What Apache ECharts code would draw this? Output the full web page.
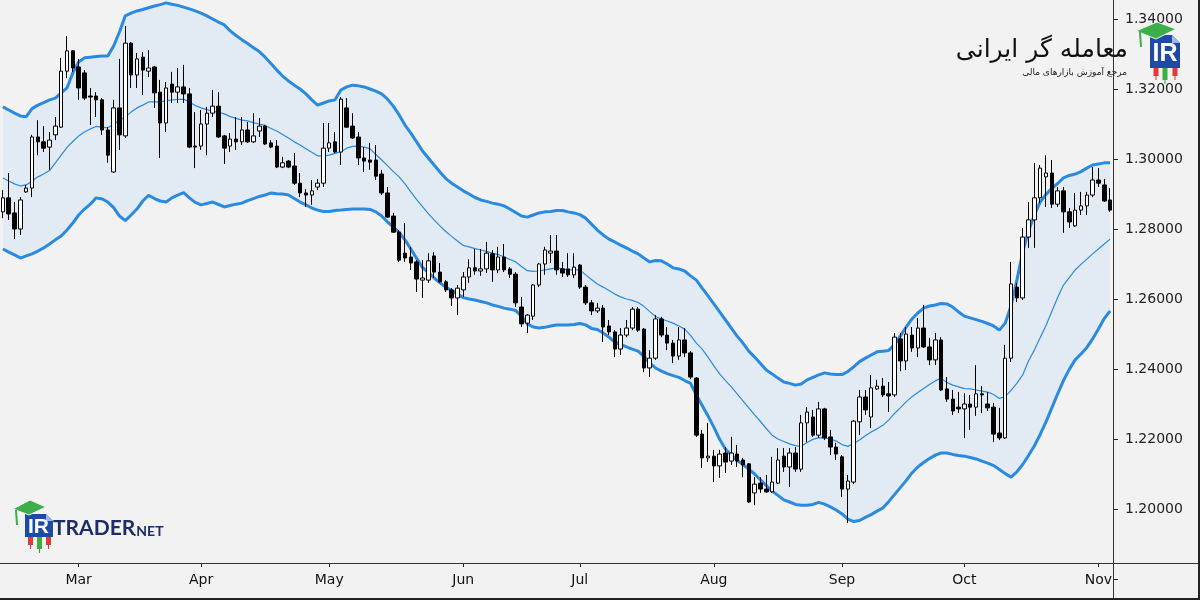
<!DOCTYPE html>
<html><head><meta charset="utf-8">
<script src="https://cdn.jsdelivr.net/npm/echarts/dist/echarts.min.js"></script>
<style>html,body{margin:0;padding:0;background:#f2f2f2}#c{width:1200px;height:600px}</style>
</head><body><div id="c"></div>
<script>
const startDate = [2019, 1, 12];
const monthNames = ['Jan','Feb','Mar','Apr','May','Jun','Jul','Aug','Sep','Oct','Nov','Dec'];
const priceTicks = [1.18,1.20,1.22,1.24,1.26,1.28,1.30,1.32,1.34];
// [open, close, low, high]
const candles = [
[1.2849,1.2889,1.2831,1.2911],[1.2889,1.2843,1.2826,1.2960],[1.2846,1.2800,1.2771,1.2877],[1.2800,1.2883,1.2783,1.2891],[1.2906,1.2917,1.2903,1.2926],
[1.2917,1.3063,1.2891,1.3069],[1.3063,1.3049,1.3011,1.3111],[1.3049,1.3031,1.3020,1.3094],[1.3034,1.3054,1.2969,1.3077],[1.3069,1.3094,1.3054,1.3120],
[1.3091,1.3251,1.3089,1.3289],[1.3251,1.3309,1.3231,1.3351],[1.3309,1.3260,1.3249,1.3311],[1.3263,1.3203,1.3169,1.3286],[1.3246,1.3174,1.3169,1.3254],
[1.3180,1.3177,1.3097,1.3203],[1.3180,1.3169,1.3120,1.3191],[1.3169,1.3083,1.3069,1.3174],[1.3083,1.3011,1.2989,1.3091],[1.2963,1.3146,1.2960,1.3169],
[1.3146,1.3069,1.3026,1.3286],[1.3066,1.3331,1.3060,1.3380],[1.3331,1.3240,1.3203,1.3334],[1.3240,1.3286,1.3203,1.3303],[1.3291,1.3254,1.3183,1.3306],
[1.3251,1.3260,1.3234,1.3311],[1.3263,1.3189,1.3146,1.3266],[1.3191,1.3103,1.3003,1.3226],[1.3103,1.3203,1.3077,1.3220],[1.3214,1.3191,1.3160,1.3249],
[1.3191,1.3206,1.3160,1.3260],[1.3206,1.3186,1.3160,1.3269],[1.3186,1.3034,1.3031,1.3203],[1.3037,1.3034,1.2974,1.3134],[1.3037,1.3100,1.3026,1.3140],
[1.3100,1.3131,1.3011,1.3149],[1.3131,1.3151,1.3120,1.3197],[1.3151,1.3063,1.3060,1.3191],[1.3066,1.3031,1.2986,1.3069],[1.3037,1.3057,1.3020,1.3074],
[1.3057,1.3049,1.3026,1.3120],[1.3049,1.3083,1.3040,1.3120],[1.3083,1.3049,1.3046,1.3106],[1.3049,1.3066,1.3046,1.3131],[1.3080,1.3094,1.3063,1.3117],
[1.3094,1.3043,1.3040,1.3097],[1.3046,1.3034,1.3031,1.3054],[1.3037,1.2977,1.2974,1.3054],[1.2977,1.2989,1.2974,1.3006],[1.2994,1.2977,1.2974,1.2997],
[1.2980,1.2931,1.2926,1.3017],[1.2931,1.2903,1.2891,1.2960],[1.2903,1.2897,1.2863,1.2914],[1.2897,1.2909,1.2869,1.2940],[1.2920,1.2931,1.2911,1.2943],
[1.2931,1.3031,1.2920,1.3103],[1.3031,1.3046,1.3020,1.3103],[1.3049,1.3020,1.3017,1.3077],[1.3020,1.3171,1.2983,1.3177],[1.3146,1.3091,1.3089,1.3174],
[1.3094,1.3060,1.3057,1.3131],[1.3063,1.3003,1.2983,1.3077],[1.3003,1.2994,1.2963,1.3034],[1.2997,1.2991,1.2969,1.3046],[1.2997,1.2951,1.2940,1.3040],
[1.2957,1.2903,1.2897,1.2969],[1.2903,1.2834,1.2831,1.2920],[1.2837,1.2791,1.2789,1.2846],[1.2791,1.2711,1.2706,1.2797],[1.2731,1.2717,1.2706,1.2817],
[1.2720,1.2703,1.2683,1.2749],[1.2706,1.2657,1.2620,1.2711],[1.2654,1.2660,1.2603,1.2711],[1.2654,1.2709,1.2646,1.2731],[1.2723,1.2677,1.2660,1.2734],
[1.2677,1.2649,1.2646,1.2703],[1.2649,1.2626,1.2620,1.2654],[1.2626,1.2603,1.2580,1.2631],[1.2603,1.2631,1.2554,1.2640],[1.2626,1.2663,1.2606,1.2677],
[1.2663,1.2689,1.2646,1.2714],[1.2689,1.2680,1.2669,1.2743],[1.2680,1.2686,1.2666,1.2743],[1.2686,1.2731,1.2674,1.2763],[1.2729,1.2683,1.2649,1.2740],
[1.2683,1.2720,1.2674,1.2749],[1.2720,1.2683,1.2677,1.2757],[1.2686,1.2671,1.2660,1.2691],[1.2671,1.2589,1.2577,1.2677],[1.2577,1.2529,1.2520,1.2606],
[1.2531,1.2554,1.2503,1.2557],[1.2551,1.2640,1.2540,1.2643],[1.2640,1.2700,1.2634,1.2703],[1.2700,1.2740,1.2669,1.2749],[1.2731,1.2737,1.2703,1.2783],
[1.2737,1.2683,1.2669,1.2783],[1.2686,1.2674,1.2663,1.2706],[1.2686,1.2669,1.2663,1.2731],[1.2669,1.2691,1.2660,1.2731],[1.2697,1.2634,1.2629,1.2700],
[1.2634,1.2589,1.2583,1.2640],[1.2589,1.2566,1.2554,1.2597],[1.2566,1.2574,1.2560,1.2589],[1.2574,1.2520,1.2477,1.2583],[1.2523,1.2506,1.2497,1.2540],
[1.2506,1.2457,1.2434,1.2511],[1.2457,1.2497,1.2440,1.2517],[1.2497,1.2517,1.2491,1.2540],[1.2517,1.2571,1.2511,1.2577],[1.2571,1.2511,1.2506,1.2577],
[1.2514,1.2403,1.2391,1.2517],[1.2403,1.2431,1.2377,1.2454],[1.2431,1.2543,1.2426,1.2554],[1.2543,1.2497,1.2491,1.2549],[1.2497,1.2474,1.2454,1.2520],
[1.2474,1.2437,1.2417,1.2483],[1.2437,1.2483,1.2426,1.2520],[1.2483,1.2446,1.2434,1.2517],[1.2446,1.2377,1.2371,1.2451],[1.2374,1.2211,1.2206,1.2377],
[1.2214,1.2146,1.2117,1.2226],[1.2146,1.2151,1.2134,1.2246],[1.2151,1.2123,1.2077,1.2169],[1.2123,1.2157,1.2089,1.2169],[1.2160,1.2134,1.2103,1.2177],
[1.2137,1.2160,1.2126,1.2206],[1.2157,1.2137,1.2120,1.2183],[1.2140,1.2126,1.2091,1.2146],[1.2129,1.2020,1.2017,1.2131],[1.2046,1.2071,1.2011,1.2091],
[1.2074,1.2057,1.2046,1.2091],[1.2057,1.2049,1.2046,1.2097],[1.2049,1.2077,1.2046,1.2149],[1.2074,1.2140,1.2071,1.2174],[1.2151,1.2120,1.2106,1.2174],
[1.2120,1.2160,1.2063,1.2174],[1.2160,1.2114,1.2106,1.2177],[1.2114,1.2246,1.2106,1.2269],[1.2246,1.2277,1.2191,1.2291],[1.2263,1.2211,1.2206,1.2283],
[1.2211,1.2286,1.2203,1.2306],[1.2286,1.2203,1.2197,1.2289],[1.2206,1.2177,1.2154,1.2226],[1.2177,1.2157,1.2140,1.2189],[1.2149,1.2057,1.2034,1.2154],
[1.2057,1.2080,1.1960,1.2097],[1.2077,1.2251,1.2071,1.2254],[1.2249,1.2320,1.2211,1.2340],[1.2320,1.2283,1.2269,1.2340],[1.2263,1.2346,1.2231,1.2383],
[1.2343,1.2351,1.2340,1.2369],[1.2351,1.2326,1.2320,1.2374],[1.2329,1.2323,1.2277,1.2363],[1.2326,1.2491,1.2320,1.2503],[1.2486,1.2423,1.2394,1.2503],
[1.2423,1.2500,1.2397,1.2520],[1.2497,1.2460,1.2449,1.2520],[1.2460,1.2517,1.2434,1.2546],[1.2517,1.2463,1.2460,1.2583],[1.2463,1.2426,1.2411,1.2489],
[1.2426,1.2483,1.2411,1.2503],[1.2483,1.2340,1.2337,1.2491],[1.2343,1.2314,1.2306,1.2377],[1.2314,1.2280,1.2269,1.2340],[1.2291,1.2286,1.2274,1.2334],
[1.2286,1.2300,1.2203,1.2331],[1.2300,1.2291,1.2226,1.2326],[1.2291,1.2329,1.2266,1.2411],[1.2329,1.2326,1.2274,1.2351],[1.2300,1.2289,1.2280,1.2334],
[1.2291,1.2214,1.2191,1.2303],[1.2217,1.2203,1.2197,1.2289],[1.2203,1.2431,1.2200,1.2469],[1.2431,1.2643,1.2420,1.2706],[1.2634,1.2603,1.2591,1.2646],
[1.2603,1.2777,1.2597,1.2803],[1.2777,1.2826,1.2746,1.2877],[1.2826,1.2889,1.2746,1.2989],[1.2889,1.2974,1.2874,1.2983],[1.2949,1.2960,1.2863,1.3011],
[1.2960,1.2871,1.2860,1.2997],[1.2871,1.2909,1.2863,1.2920],[1.2909,1.2849,1.2789,1.2920],[1.2849,1.2820,1.2803,1.2860],[1.2809,1.2854,1.2806,1.2903],
[1.2854,1.2866,1.2840,1.2906],[1.2866,1.2897,1.2840,1.2906],[1.2897,1.2940,1.2891,1.2977],[1.2940,1.2931,1.2920,1.2974],[1.2926,1.2880,1.2877,1.2943],
[1.2883,1.2854,1.2849,1.2917]
];
const upperBand = [
1.3149,1.3140,1.3131,1.3123,1.3121,1.3144,1.3154,1.3161,1.3169,1.3174,
1.3189,1.3203,1.3246,1.3277,1.3289,1.3291,1.3293,1.3294,1.3294,1.3323,
1.3363,1.3409,1.3417,1.3423,1.3427,1.3432,1.3437,1.3441,1.3446,1.3442,
1.3439,1.3434,1.3429,1.3423,1.3417,1.3409,1.3400,1.3391,1.3383,1.3366,
1.3353,1.3341,1.3330,1.3318,1.3307,1.3291,1.3273,1.3254,1.3237,1.3223,
1.3211,1.3200,1.3186,1.3169,1.3154,1.3160,1.3166,1.3169,1.3197,1.3206,
1.3211,1.3209,1.3206,1.3200,1.3194,1.3186,1.3171,1.3151,1.3126,1.3097,
1.3074,1.3049,1.3023,1.3003,1.2983,1.2963,1.2944,1.2931,1.2920,1.2909,
1.2900,1.2890,1.2883,1.2879,1.2874,1.2871,1.2866,1.2857,1.2847,1.2837,
1.2834,1.2840,1.2846,1.2849,1.2850,1.2853,1.2853,1.2849,1.2846,1.2841,
1.2831,1.2814,1.2797,1.2783,1.2771,1.2763,1.2754,1.2746,1.2737,1.2729,
1.2717,1.2706,1.2710,1.2709,1.2700,1.2689,1.2686,1.2680,1.2666,1.2654,
1.2631,1.2609,1.2586,1.2563,1.2540,1.2517,1.2494,1.2474,1.2451,1.2434,
1.2416,1.2397,1.2386,1.2374,1.2363,1.2359,1.2354,1.2357,1.2369,1.2376,
1.2383,1.2389,1.2386,1.2384,1.2384,1.2393,1.2406,1.2421,1.2431,1.2440,
1.2449,1.2451,1.2453,1.2469,1.2494,1.2520,1.2543,1.2560,1.2574,1.2580,
1.2583,1.2587,1.2586,1.2577,1.2563,1.2551,1.2546,1.2541,1.2536,1.2530,
1.2523,1.2511,1.2531,1.2580,1.2654,1.2734,1.2794,1.2840,1.2877,1.2899,
1.2916,1.2930,1.2946,1.2953,1.2957,1.2964,1.2974,1.2983,1.2986,1.2989,
1.2989];
const middleBand = [
1.2946,1.2937,1.2929,1.2923,1.2926,1.2937,1.2949,1.2957,1.2967,1.2989,
1.3011,1.3033,1.3050,1.3066,1.3077,1.3086,1.3093,1.3091,1.3089,1.3100,
1.3110,1.3121,1.3134,1.3146,1.3154,1.3163,1.3163,1.3163,1.3166,1.3169,
1.3170,1.3171,1.3163,1.3153,1.3146,1.3141,1.3137,1.3133,1.3129,1.3121,
1.3116,1.3111,1.3109,1.3104,1.3100,1.3096,1.3087,1.3080,1.3070,1.3060,
1.3049,1.3040,1.3029,1.3019,1.3009,1.3009,1.3011,1.3016,1.3021,1.3031,
1.3036,1.3037,1.3034,1.3029,1.3013,1.2997,1.2981,1.2964,1.2949,1.2929,
1.2906,1.2884,1.2864,1.2844,1.2826,1.2809,1.2793,1.2779,1.2766,1.2753,
1.2749,1.2744,1.2740,1.2736,1.2731,1.2727,1.2720,1.2713,1.2706,1.2693,
1.2681,1.2679,1.2680,1.2683,1.2686,1.2689,1.2687,1.2683,1.2683,1.2683,
1.2669,1.2656,1.2643,1.2634,1.2624,1.2614,1.2606,1.2600,1.2596,1.2590,
1.2579,1.2564,1.2550,1.2543,1.2537,1.2531,1.2523,1.2514,1.2496,1.2474,
1.2457,1.2434,1.2409,1.2386,1.2367,1.2349,1.2329,1.2309,1.2289,1.2269,
1.2250,1.2230,1.2211,1.2200,1.2193,1.2186,1.2181,1.2179,1.2190,1.2199,
1.2204,1.2203,1.2200,1.2194,1.2184,1.2179,1.2187,1.2197,1.2209,1.2220,
1.2229,1.2239,1.2254,1.2273,1.2289,1.2306,1.2321,1.2333,1.2344,1.2356,
1.2366,1.2374,1.2361,1.2354,1.2349,1.2344,1.2343,1.2340,1.2337,1.2334,
1.2327,1.2316,1.2321,1.2339,1.2359,1.2383,1.2423,1.2454,1.2489,1.2524,
1.2564,1.2604,1.2640,1.2661,1.2683,1.2699,1.2714,1.2729,1.2743,1.2757,
1.2771];
const lowerBand = [
1.2743,1.2734,1.2726,1.2717,1.2723,1.2729,1.2737,1.2746,1.2757,1.2769,
1.2780,1.2797,1.2817,1.2840,1.2857,1.2871,1.2889,1.2886,1.2877,1.2861,
1.2837,1.2824,1.2840,1.2857,1.2880,1.2896,1.2887,1.2880,1.2877,1.2889,
1.2897,1.2904,1.2889,1.2876,1.2869,1.2873,1.2877,1.2870,1.2863,1.2867,
1.2871,1.2874,1.2881,1.2887,1.2893,1.2897,1.2903,1.2901,1.2900,1.2897,
1.2887,1.2877,1.2869,1.2860,1.2854,1.2850,1.2850,1.2853,1.2854,1.2856,
1.2857,1.2857,1.2857,1.2856,1.2849,1.2837,1.2820,1.2806,1.2790,1.2769,
1.2743,1.2716,1.2690,1.2676,1.2660,1.2646,1.2634,1.2624,1.2614,1.2604,
1.2600,1.2597,1.2593,1.2589,1.2583,1.2579,1.2574,1.2571,1.2567,1.2551,
1.2529,1.2520,1.2517,1.2519,1.2523,1.2526,1.2526,1.2526,1.2527,1.2530,
1.2526,1.2516,1.2513,1.2503,1.2491,1.2477,1.2470,1.2463,1.2457,1.2451,
1.2436,1.2417,1.2403,1.2394,1.2387,1.2381,1.2376,1.2367,1.2359,1.2326,
1.2296,1.2266,1.2234,1.2199,1.2171,1.2154,1.2139,1.2127,1.2114,1.2100,
1.2083,1.2067,1.2051,1.2039,1.2026,1.2020,1.2013,1.2011,1.2011,1.2013,
1.2019,1.2014,1.2006,1.1997,1.1986,1.1971,1.1964,1.1967,1.1976,1.1984,
1.1994,1.2003,1.2021,1.2041,1.2061,1.2081,1.2103,1.2120,1.2133,1.2144,
1.2154,1.2160,1.2160,1.2156,1.2153,1.2151,1.2147,1.2143,1.2137,1.2131,
1.2124,1.2113,1.2101,1.2091,1.2106,1.2127,1.2153,1.2180,1.2213,1.2249,
1.2289,1.2329,1.2367,1.2399,1.2426,1.2443,1.2461,1.2486,1.2514,1.2544,
1.2566];

// trading-day categories (weekdays)
const dates = [];
let t = Date.UTC(startDate[0], startDate[1], startDate[2]);
while (dates.length < candles.length) {
  const dd = new Date(t);
  const wd = dd.getUTCDay();
  if (wd !== 0 && wd !== 6) dates.push(dd.toISOString().slice(0, 10));
  t += 86400000;
}
const monthStart = new Set();
for (let i = 1; i < dates.length; i++) if (dates[i].slice(5, 7) !== dates[i - 1].slice(5, 7)) monthStart.add(i);

const BG = '#f2f2f2', BAND = '#2a8ae0', FILL = '#e2eaf4', INK = '#222';
const chart = echarts.init(document.getElementById('c'), null, {renderer: 'canvas'});
const Z = 100;
const logo = [
  // frame lines
  {type:'line', z:Z, shape:{x1:0,y1:563.5,x2:1200,y2:563.5}, style:{stroke:'#333',lineWidth:1}},
  {type:'line', z:Z, shape:{x1:1113.5,y1:0,x2:1113.5,y2:600}, style:{stroke:'#333',lineWidth:1}},
  {type:'line', z:Z, shape:{x1:0,y1:599,x2:1200,y2:599}, style:{stroke:'#222',lineWidth:2}},
  {type:'line', z:Z, shape:{x1:1199,y1:0,x2:1199,y2:600}, style:{stroke:'#222',lineWidth:2}},
  // top-right brand
  {type:'text', z:Z, x:1128, y:50, style:{text:'معامله گر ایرانی', font:'25px "DejaVu Sans"', fill:'#111', align:'right', verticalAlign:'middle'}},
  {type:'text', z:Z, x:1127, y:73, style:{text:'مرجع آموزش بازارهای مالی', font:'9px "DejaVu Sans"', fill:'#222', align:'right', verticalAlign:'middle'}},
  {type:'line', z:Z, shape:{x1:1156,y1:66,x2:1156,y2:80}, style:{stroke:'#d33',lineWidth:1}},
  {type:'rect', z:Z, shape:{x:1153.5,y:67,width:5,height:9}, style:{fill:'#e03a3a'}},
  {type:'line', z:Z, shape:{x1:1165,y1:66,x2:1165,y2:84}, style:{stroke:'#2a2',lineWidth:1}},
  {type:'rect', z:Z, shape:{x:1162.5,y:67,width:5,height:13}, style:{fill:'#3cb043'}},
  {type:'line', z:Z, shape:{x1:1175,y1:66,x2:1175,y2:80}, style:{stroke:'#d33',lineWidth:1}},
  {type:'rect', z:Z, shape:{x:1172.5,y:67,width:5,height:9}, style:{fill:'#e03a3a'}},
  {type:'polygon', z:Z, shape:{points:[[1150,35],[1172,35],[1180,43],[1180,68],[1150,68]]}, style:{fill:'#1d4aa5'}},
  {type:'polygon', z:Z, shape:{points:[[1172,35],[1172,43],[1180,43]]}, style:{fill:'#9db8ea'}},
  {type:'text', z:Z, x:1165, y:54, style:{text:'IR', font:'bold 25px "Liberation Sans"', fill:'#fff', align:'center', verticalAlign:'middle'}},
  {type:'polygon', z:Z, shape:{points:[[1136,31],[1157,22],[1176,29],[1156,39]]}, style:{fill:'#3cae4a', stroke:'#f2f2f2', lineWidth:1}},
  {type:'line', z:Z, shape:{x1:1140,y1:32,x2:1141,y2:47}, style:{stroke:'#3cae4a',lineWidth:2}},
  // bottom-left brand
  {type:'line', z:Z, shape:{x1:30.5,y1:535,x2:30.5,y2:549}, style:{stroke:'#d33',lineWidth:1}},
  {type:'rect', z:Z, shape:{x:28,y:536,width:5,height:9}, style:{fill:'#e03a3a'}},
  {type:'line', z:Z, shape:{x1:39.5,y1:535,x2:39.5,y2:553}, style:{stroke:'#2a2',lineWidth:1}},
  {type:'rect', z:Z, shape:{x:37,y:536,width:5,height:13}, style:{fill:'#3cb043'}},
  {type:'line', z:Z, shape:{x1:48.5,y1:535,x2:48.5,y2:549}, style:{stroke:'#d33',lineWidth:1}},
  {type:'rect', z:Z, shape:{x:46,y:536,width:5,height:9}, style:{fill:'#e03a3a'}},
  {type:'polygon', z:Z, shape:{points:[[25,514],[46,514],[53,521],[53,537],[25,537]]}, style:{fill:'#1d4aa5'}},
  {type:'polygon', z:Z, shape:{points:[[46,514],[46,521],[53,521]]}, style:{fill:'#9db8ea'}},
  {type:'text', z:Z, x:38.5, y:527, style:{text:'IR', font:'bold 21px "Liberation Sans"', fill:'#fff', align:'center', verticalAlign:'middle'}},
  {type:'polygon', z:Z, shape:{points:[[13,509],[30,500],[46,507],[29,515]]}, style:{fill:'#3cae4a', stroke:'#f2f2f2', lineWidth:1}},
  {type:'line', z:Z, shape:{x1:16,y1:510,x2:17,y2:525}, style:{stroke:'#3cae4a',lineWidth:2}},
  {type:'text', z:Z, x:53, y:528, style:{text:'TRADER', font:'bold 21px Lato', fill:'#1e2d66', align:'left', verticalAlign:'middle'}},
  {type:'text', z:Z, x:133, y:531, style:{text:'.NET', font:'bold 14px Lato', fill:'#1e2d66', align:'left', verticalAlign:'middle'}}
];

chart.setOption({
  backgroundColor: BG,
  animation: false,
  grid: {left: 0, right: 87, top: 0, bottom: 21},
  xAxis: {
    type: 'category', data: dates, boundaryGap: true, offset: -16, z: 10,
    axisLine: {show: false},
    axisTick: {show: true, alignWithLabel: true, length: 4, interval: (i) => monthStart.has(i), lineStyle: {color: INK}},
    axisLabel: {interval: (i) => monthStart.has(i), formatter: (v) => monthNames[+v.slice(5, 7) - 1],
      color: '#111', fontFamily: 'DejaVu Sans', fontSize: 14, margin: 10},
    splitLine: {show: false}
  },
  yAxis: {
    type: 'value', position: 'right', min: 1.18, max: 1.34543, z: 10,
    axisLine: {show: false},
    axisTick: {show: true, length: 5, customValues: priceTicks, lineStyle: {color: INK}},
    axisLabel: {customValues: priceTicks, formatter: (v) => (v < 1.19 ? '' : v.toFixed(5)),
      color: INK, fontFamily: 'DejaVu Sans', fontSize: 14, margin: 12},
    splitLine: {show: false}
  },
  series: [
    {type: 'line', name: 'upper', data: upperBand, symbol: 'none', silent: true, z: 2,
      lineStyle: {color: BAND, width: 3}, areaStyle: {color: FILL, opacity: 1, origin: 'start'}},
    {type: 'line', name: 'lower', data: lowerBand, symbol: 'none', silent: true, z: 3,
      lineStyle: {color: BAND, width: 3}, areaStyle: {color: BG, opacity: 1, origin: 'start'}},
    {type: 'line', name: 'middle', data: middleBand, symbol: 'none', silent: true, z: 3,
      lineStyle: {color: BAND, width: 1.2}},
    {type: 'candlestick', name: 'price', data: candles, barWidth: 4, z: 5,
      itemStyle: {color: '#ffffff', color0: '#000000', borderColor: '#000000', borderColor0: '#000000', borderWidth: 1}}
  ],
  graphic: logo
});
</script></body></html>
